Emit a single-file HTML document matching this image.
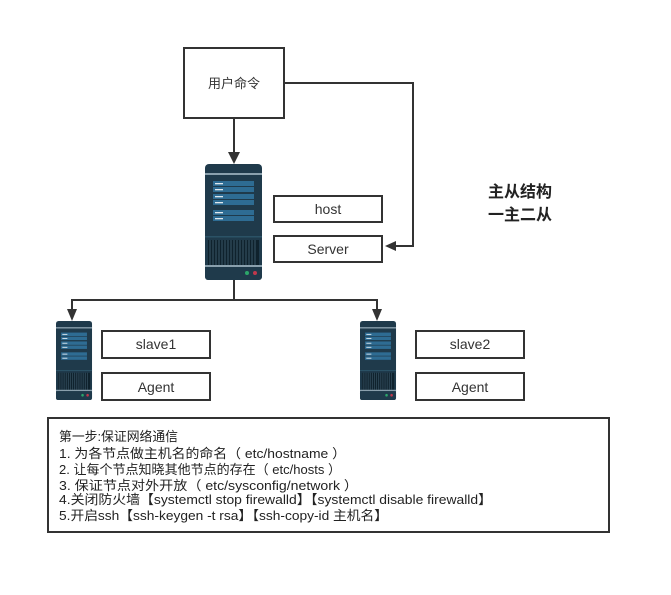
<!DOCTYPE html>
<html><head><meta charset="utf-8"><style>
body{margin:0;background:#fff;}
svg{display:block;font-family:"Liberation Sans","Noto Sans CJK SC",sans-serif;}
</style></head><body>
<svg width="671" height="595" viewBox="0 0 671 595" xmlns="http://www.w3.org/2000/svg">
<defs>
<g id="srv">
<rect x="0" y="0" width="57" height="116" rx="4" fill="#1f3a4b"/>
<rect x="0" y="9" width="57" height="2" fill="#8aa0ad"/>
<rect x="8" y="17" width="41" height="5" fill="#2e6c93"/>
<rect x="8" y="23" width="41" height="5" fill="#2e6c93"/>
<rect x="8" y="30" width="41" height="5" fill="#2e6c93"/>
<rect x="8" y="36" width="41" height="5" fill="#2e6c93"/>
<rect x="8" y="46" width="41" height="5" fill="#2e6c93"/>
<rect x="8" y="52" width="41" height="5" fill="#2e6c93"/>
<rect x="10" y="19" width="8" height="1.3" fill="#dfe8ee"/>
<rect x="10" y="25" width="8" height="1.3" fill="#dfe8ee"/>
<rect x="10" y="32" width="8" height="1.3" fill="#dfe8ee"/>
<rect x="10" y="38" width="8" height="1.3" fill="#dfe8ee"/>
<rect x="10" y="48" width="8" height="1.3" fill="#dfe8ee"/>
<rect x="10" y="54" width="8" height="1.3" fill="#dfe8ee"/>
<rect x="0" y="72" width="57" height="1.5" fill="#2b5266"/>
<rect x="3" y="76" width="51" height="25" fill="#0f222d"/>
<g stroke="#3a5566" stroke-width="1">
<path d="M5 76v25M8 76v25M11 76v25M14 76v25M17 76v25M20 76v25M23 76v25M26 76v25M29 76v25M32 76v25M35 76v25M38 76v25M41 76v25M44 76v25M47 76v25M50 76v25"/>
</g>
<rect x="0" y="101" width="57" height="2" fill="#8aa0ad"/>
<rect x="0" y="103" width="57" height="13" rx="3" fill="#1f3a4b"/>
<circle cx="42" cy="109" r="2" fill="#2ca66a"/>
<circle cx="50" cy="109" r="2" fill="#c0384c"/>
</g>
</defs>
<g fill="none" stroke="#333" stroke-width="2">
<rect x="184" y="48" width="100" height="70"/>
<rect x="274" y="196" width="108" height="26"/>
<rect x="274" y="236" width="108" height="26"/>
<rect x="102" y="331" width="108" height="27"/>
<rect x="102" y="373" width="108" height="27"/>
<rect x="416" y="331" width="108" height="27"/>
<rect x="416" y="373" width="108" height="27"/>
<rect x="48" y="418" width="561" height="114"/>
<path d="M234 118V154"/>
<path d="M284 83H413V246H392"/>
<path d="M234 280V300H72V312M234 300H377V312"/>
</g>
<g fill="#333">
<path d="M228 152h12l-6 12z"/>
<path d="M385 246l11-5v10z"/>
<path d="M67 309h10l-5 12z"/>
<path d="M372 309h10l-5 12z"/>
</g>
<use href="#srv" x="205" y="164"/>
<use href="#srv" transform="translate(56 321) scale(0.632 0.681)"/>
<use href="#srv" transform="translate(360 321) scale(0.632 0.681)"/>
<g font-size="14" fill="#333" text-anchor="middle">
<text x="234" y="88" font-size="13">用户命令</text>
<text x="328" y="214">host</text>
<text x="328" y="254">Server</text>
<text x="156" y="349">slave1</text>
<text x="156" y="392">Agent</text>
<text x="470" y="349">slave2</text>
<text x="470" y="392">Agent</text>
</g>
<g font-size="16" font-weight="bold" fill="#222">
<text x="488" y="197">主从结构</text>
<text x="488" y="220">一主二从</text>
</g>
<g font-size="13" fill="#222">
<text x="59" y="441" textLength="119" lengthAdjust="spacingAndGlyphs">第一步:保证网络通信</text>
<text x="59" y="458" textLength="287" lengthAdjust="spacingAndGlyphs">1. 为各节点做主机名的命名（ etc/hostname ）</text>
<text x="59" y="474" textLength="282" lengthAdjust="spacingAndGlyphs">2. 让每个节点知晓其他节点的存在（ etc/hosts ）</text>
<text x="59" y="490" textLength="299" lengthAdjust="spacingAndGlyphs">3. 保证节点对外开放（ etc/sysconfig/network ）</text>
<text x="59" y="504" textLength="433" lengthAdjust="spacingAndGlyphs">4.关闭防火墙【systemctl stop firewalld】【systemctl disable firewalld】</text>
<text x="59" y="520" textLength="329" lengthAdjust="spacingAndGlyphs">5.开启ssh【ssh-keygen -t rsa】【ssh-copy-id 主机名】</text>
</g>
</svg>
</body></html>
